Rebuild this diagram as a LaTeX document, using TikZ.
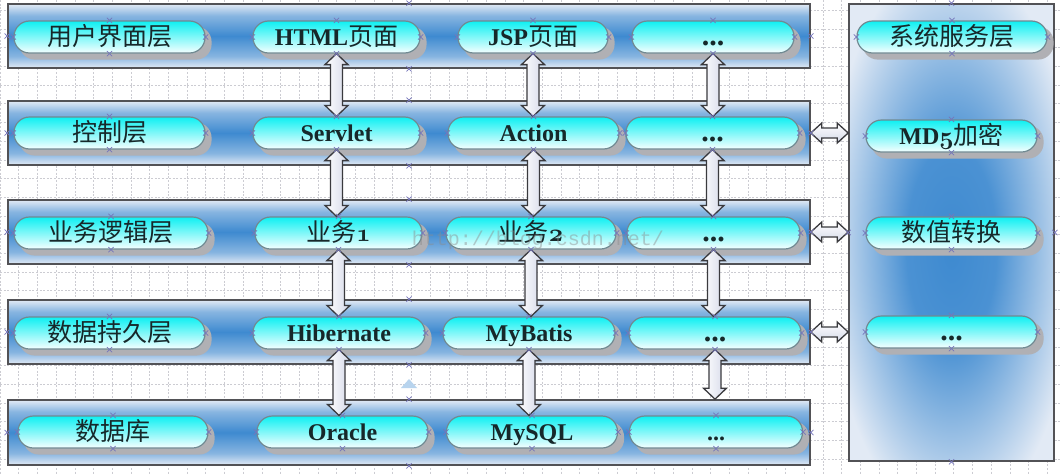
\documentclass[tikz,border=0pt]{standalone}
\usepackage{fontspec}
\setmainfont{Liberation Serif}
\newfontfamily\cjk{Noto Sans CJK SC}
\newfontfamily\wmfont{Liberation Mono}
\usetikzlibrary{calc}

\definecolor{pilltop}{RGB}{14,240,242}
\definecolor{pillbot}{RGB}{246,255,255}
\definecolor{pillline}{RGB}{112,138,146}
\definecolor{pillshadow}{RGB}{176,176,180}
\definecolor{boxedge}{RGB}{226,234,245}
\definecolor{boxmid}{RGB}{62,138,208}
\definecolor{boxline}{RGB}{82,82,86}
\definecolor{arrowfillB}{RGB}{212,216,232}
\definecolor{arrowline}{RGB}{58,58,62}
\definecolor{markc}{RGB}{118,118,186}
\definecolor{gridc}{RGB}{204,204,210}
\definecolor{txt}{RGB}{22,40,42}
\definecolor{tri}{RGB}{184,212,238}

\pgfdeclareradialshading{rglow}{\pgfpoint{0bp}{-2bp}}{color(0bp)=(boxmid); color(11bp)=(boxmid!92!boxedge); color(31bp)=(boxedge); color(50bp)=(boxedge)}
\pgfdeclareverticalshading{lglow}{100bp}{color(0bp)=(boxedge); color(25bp)=(boxedge); color(34bp)=(boxmid!55!boxedge); color(50bp)=(boxmid); color(66bp)=(boxmid!55!boxedge); color(75bp)=(boxedge); color(100bp)=(boxedge)}

\pgfdeclarelayer{bg}
\pgfdeclarelayer{shd}
\pgfsetlayers{bg,shd,main}

\newcommand\zh[1]{{\cjk\mdseries\fontsize{25}{28}\selectfont #1}}
\newcommand\osn[1]{{\fontsize{25}{28}\usefont{OML}{cmm}{b}{it}#1}}
\newcommand\bigdots{{\fontsize{30}{30}\selectfont ...}}

% vertical double block arrow between two named points
\newcommand\varrow[2]{%
  \draw[barrow] let \p1=(#1), \p2=(#2) in
    (\x1,\y1) -- (\x1+11.5pt,\y1-11pt) -- (\x1+6pt,\y1-11pt) -- (\x1+6pt,\y2+11pt)
    -- (\x1+11.5pt,\y2+11pt) -- (\x1,\y2) -- (\x1-11.5pt,\y2+11pt) -- (\x1-6pt,\y2+11pt)
    -- (\x1-6pt,\y1-11pt) -- (\x1-11.5pt,\y1-11pt) -- cycle;}
% horizontal double block arrow
\newcommand\harrow[2]{%
  \draw[barrowh] let \p1=(#1), \p2=(#2) in
    (\x1,\y1) -- (\x1+11pt,\y1+10pt) -- (\x1+11pt,\y1+5pt) -- (\x2-11pt,\y1+5pt)
    -- (\x2-11pt,\y1+10pt) -- (\x2,\y1) -- (\x2-11pt,\y1-10pt) -- (\x2-11pt,\y1-5pt)
    -- (\x1+11pt,\y1-5pt) -- (\x1+11pt,\y1-10pt) -- cycle;}

\tikzset{
  pill/.style={rectangle, rounded corners=15.5pt, minimum height=32pt, inner sep=0pt,
    text height=20pt, text depth=4pt,
    draw=pillline, line width=1.2pt, top color=pilltop, bottom color=pillbot,
    text=txt, font=\fontsize{24}{28}\selectfont\bfseries},
  pillshade/.style={fill=pillshadow, rounded corners=15.5pt},
  lbox/.style={rectangle, inner sep=0pt, minimum width=802pt, draw=boxline, line width=1.6pt,
    shading=lglow},
  rbox/.style={rectangle, inner sep=0pt, draw=boxline, line width=1.6pt, shading=rglow},
  barrow/.style={draw=arrowline, line width=1.3pt, line join=miter, left color=white, right color=arrowfillB},
  barrowh/.style={draw=arrowline, line width=1.3pt, line join=miter, top color=white, bottom color=arrowfillB},
  gridline/.style={draw=gridc, line width=0.5pt, dash pattern=on 2pt off 1.6pt},
  markline/.style={draw=markc, line width=0.7pt},
  xmark/.pic={\draw[markline] (-2.6pt,-2.6pt) -- (2.6pt,2.6pt) (-2.6pt,2.6pt) -- (2.6pt,-2.6pt);},
  wm/.style={font=\wmfont\fontsize{20}{24}\selectfont, text=black!45, opacity=0.45, inner sep=0pt}
}

\begin{document}
\begin{tikzpicture}[x=1pt, y=-1pt]
\useasboundingbox (0,0) rectangle (1062,474);
\begin{pgfonlayer}{bg}
\fill[white] (0,0) rectangle (1062,474);
% background grid
\foreach \i in {0,...,56} \draw[gridline] (\i*18.7,0) -- (\i*18.7,474);
\foreach \j in {0,...,25} \draw[gridline] (0,10.2+\j*18.7) -- (1062,10.2+\j*18.7);
% layer boxes
\node[lbox, minimum height=64pt] (L1) at (409,36) {};
\node[lbox, minimum height=64pt] (L2) at (409,133) {};
\node[lbox, minimum height=64pt] (L3) at (409,232) {};
\node[lbox, minimum height=64pt] (L4) at (409,332) {};
\node[lbox, minimum height=65pt] (L5) at (409,432.5) {};
\node[rbox, minimum width=205pt, minimum height=457pt] (R) at (951.5,232.5) {};
\end{pgfonlayer}

% row 1
\node[pill, minimum width=191pt] (u1) at (109.5,37) {\zh{用户界面层}};
\node[pill, minimum width=167pt] (u2) at (336.5,37) {HTML\zh{页面}};
\node[pill, minimum width=150pt] (u3) at (533,37) {JSP\zh{页面}};
\node[pill, minimum width=162pt] (u4) at (713,37) {\bigdots};
% row 2
\node[pill, minimum width=191pt] (c1) at (109.5,133) {\zh{控制层}};
\node[pill, minimum width=167pt] (c2) at (336.5,133) {Servlet};
\node[pill, minimum width=171pt] (c3) at (533.5,133) {Action};
\node[pill, minimum width=173pt] (c4) at (712.5,133) {\bigdots};
% row 3
\node[pill, minimum width=194pt] (b1) at (111,233) {\zh{业务逻辑层}};
\node[pill, minimum width=167pt] (b2) at (338.5,233) {\zh{业务}\osn{1}};
\node[pill, minimum width=170pt] (b3) at (531,233) {\zh{业务}\osn{2}};
\node[pill, minimum width=173pt] (b4) at (713.5,233) {\bigdots};
% row 4
\node[pill, minimum width=191pt] (p1) at (109.5,333) {\zh{数据持久层}};
\node[pill, minimum width=172pt] (p2) at (339,333) {Hibernate};
\node[pill, minimum width=172pt] (p3) at (529,333) {MyBatis};
\node[pill, minimum width=172pt] (p4) at (715,333) {\bigdots};
% row 5
\node[pill, minimum width=190pt] (d1) at (113,432) {\zh{数据库}};
\node[pill, minimum width=171pt] (d2) at (342.5,432) {Oracle};
\node[pill, minimum width=171pt] (d3) at (532,432) {MySQL};
\node[pill, minimum width=173pt] (d4) at (716,432) {...};
% right column
\node[pill, minimum width=190pt] (s1) at (952,37) {\zh{系统服务层}};
\node[pill, minimum width=171pt] (s2) at (951.5,136) {MD\osn{5}\zh{加密}};
\node[pill, minimum width=171pt] (s3) at (951.5,233) {\zh{数值转换}};
\node[pill, minimum width=171pt] (s4) at (951.5,332) {\bigdots};

% pill shadows
\begin{pgfonlayer}{shd}
\foreach \n in {u1,u2,u3,u4,c1,c2,c3,c4,b1,b2,b3,b4,p1,p2,p3,p4,d1,d2,d3,d4,s1,s2,s3,s4}
  \fill[pillshade] ($(\n.south west)+(6,6)$) rectangle ($(\n.north east)+(6,6)$);
\end{pgfonlayer}

% vertical arrows
\varrow{u2.south}{c2.north}
\varrow{u3.south}{c3.north}
\varrow{u4.south}{c4.north}
\varrow{c2.south}{b2.north}
\varrow{c3.south}{b3.north}
\varrow{c4.south}{b4.north}
\varrow{b2.south}{p2.north}
\varrow{b3.south}{p3.north}
\varrow{b4.south}{p4.north}
\varrow{p2.south}{d2.north}
\varrow{p3.south}{d3.north}
\varrow{p4.south}{p4.south |- L5.north}
% horizontal arrows
\harrow{L2.east}{R.west}
\harrow{L3.east}{R.west}
\harrow{L4.east}{R.west}

% watermark
\node[wm] (wm) at (538,240) {http://blog.csdn.net/};
% editor handle
\fill[tri] (401,388) -- (409,379) -- (417,388) -- cycle;

% connection point marks
\foreach \n in {L1,L2,L3,L4,L5,R,u1,u2,u3,u4,c1,c2,c3,c4,b1,b2,b3,b4,p1,p2,p3,p4,d1,d2,d3,d4,s1,s2,s3,s4}
  \foreach \a in {north,south,east,west}
    \pic at (\n.\a) {xmark};
\end{tikzpicture}
\end{document}
